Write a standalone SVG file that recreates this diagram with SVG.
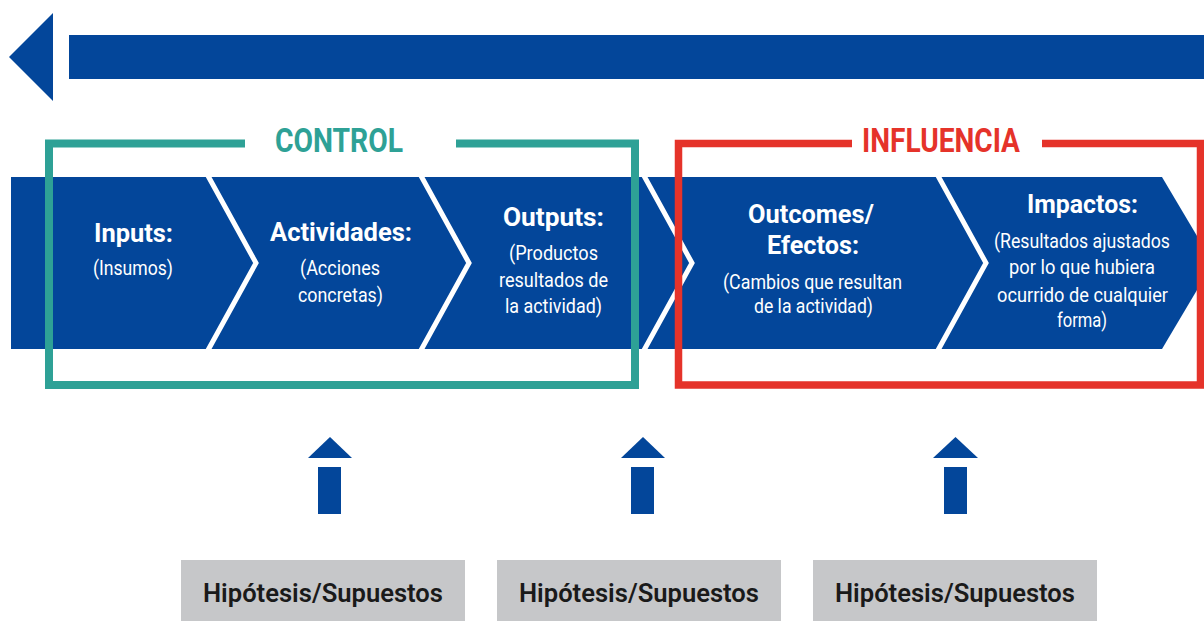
<svg xmlns="http://www.w3.org/2000/svg" width="1204" height="621" viewBox="0 0 1204 621">
<style>
.blue{fill:#03469A}
.chev{fill:none;stroke:#fff;stroke-width:5;stroke-linejoin:miter;stroke-miterlimit:10}
.title{font-family:Roboto,"Liberation Sans",sans-serif;font-weight:bold;font-size:26px;fill:#fff;text-anchor:middle}
.sub{font-family:Roboto,"Liberation Sans",sans-serif;font-weight:normal;font-size:20px;fill:#fff;text-anchor:middle}
.hdr{font-family:Roboto,"Liberation Sans",sans-serif;font-weight:bold;font-size:33px;text-anchor:middle}
.hyp{fill:#C6C7C9}
.hyptxt{font-family:Roboto,"Liberation Sans",sans-serif;font-weight:600;font-size:25px;fill:#1A1A1A;text-anchor:middle}
</style>
<rect width="1204" height="621" fill="#fff"/>
<g id="top-arrow">
<polygon class="blue" points="9,57 53,13 53,101"/>
<rect class="blue" x="69" y="35" width="1135" height="44"/>
</g>
<g id="band">
<polygon class="blue" points="11,177 1162,177 1213,263 1162,349 11,349"/>
<polyline class="chev" points="207,174 256,263 207,352"/>
<polyline class="chev" points="420,174 469,263 420,352"/>
<polyline class="chev" points="643,174 692,263 643,352"/>
<polyline class="chev" points="937,174 986,263 937,352"/>
</g>
<g id="inputs">
<text class="title" x="133.5" y="242" textLength="79" lengthAdjust="spacingAndGlyphs">Inputs:</text>
<text class="sub" x="133" y="275" textLength="80" lengthAdjust="spacingAndGlyphs">(Insumos)</text>
</g>
<g id="actividades">
<text class="title" x="341" y="241" textLength="142" lengthAdjust="spacingAndGlyphs">Actividades:</text>
<text class="sub" x="340" y="275" textLength="80" lengthAdjust="spacingAndGlyphs">(Acciones</text>
<text class="sub" x="340.5" y="302" textLength="85" lengthAdjust="spacingAndGlyphs">concretas)</text>
</g>
<g id="outputs">
<text class="title" x="553.5" y="226" textLength="101" lengthAdjust="spacingAndGlyphs">Outputs:</text>
<text class="sub" x="553.5" y="260" textLength="89" lengthAdjust="spacingAndGlyphs">(Productos</text>
<text class="sub" x="553.5" y="287" textLength="109" lengthAdjust="spacingAndGlyphs">resultados de</text>
<text class="sub" x="553.5" y="313" textLength="97" lengthAdjust="spacingAndGlyphs">la actividad)</text>
</g>
<g id="outcomes">
<text class="title" x="811" y="223" textLength="126" lengthAdjust="spacingAndGlyphs">Outcomes/</text>
<text class="title" x="813" y="254" textLength="92" lengthAdjust="spacingAndGlyphs">Efectos:</text>
<text class="sub" x="812.5" y="289" textLength="179" lengthAdjust="spacingAndGlyphs">(Cambios que resultan</text>
<text class="sub" x="813.5" y="313" textLength="119" lengthAdjust="spacingAndGlyphs">de la actividad)</text>
</g>
<g id="impactos">
<text class="title" x="1082.5" y="213" textLength="111" lengthAdjust="spacingAndGlyphs">Impactos:</text>
<text class="sub" x="1082" y="248" textLength="176" lengthAdjust="spacingAndGlyphs">(Resultados ajustados</text>
<text class="sub" x="1082" y="274" textLength="146" lengthAdjust="spacingAndGlyphs">por lo que hubiera</text>
<text class="sub" x="1082.5" y="302" textLength="171" lengthAdjust="spacingAndGlyphs">ocurrido de cualquier</text>
<text class="sub" x="1082" y="327" textLength="50" lengthAdjust="spacingAndGlyphs">forma)</text>
</g>
<g id="control">
<path d="M245,143.5 H49 V385 H635 V143.5 H456" fill="none" stroke="#2EA196" stroke-width="8"/>
<text class="hdr" x="339" y="152" fill="#2EA196" textLength="128" lengthAdjust="spacingAndGlyphs">CONTROL</text>
</g>
<g id="influencia">
<path d="M852,143.5 H678.5 V385 H1200.5 V143.5 H1042" fill="none" stroke="#E5332A" stroke-width="7.5"/>
<text class="hdr" x="941" y="152" fill="#E5332A" textLength="158" lengthAdjust="spacingAndGlyphs">INFLUENCIA</text>
</g>
<g id="connectors">
<polygon class="blue" points="330,437 352,458 308,458"/>
<rect class="blue" x="318" y="467" width="23" height="47"/>
<polygon class="blue" points="643,437 665,458 621,458"/>
<rect class="blue" x="631" y="467" width="23" height="47"/>
<polygon class="blue" points="955.5,437 978,458 933,458"/>
<rect class="blue" x="944" y="467" width="23" height="47"/>
</g>
<g id="hyp1">
<rect class="hyp" x="181" y="560" width="284" height="61"/>
<text class="hyptxt" x="323" y="602" textLength="240" lengthAdjust="spacingAndGlyphs">Hipótesis/Supuestos</text>
</g>
<g id="hyp2">
<rect class="hyp" x="497" y="560" width="284" height="61"/>
<text class="hyptxt" x="639" y="602" textLength="240" lengthAdjust="spacingAndGlyphs">Hipótesis/Supuestos</text>
</g>
<g id="hyp3">
<rect class="hyp" x="813" y="560" width="284" height="61"/>
<text class="hyptxt" x="955" y="602" textLength="240" lengthAdjust="spacingAndGlyphs">Hipótesis/Supuestos</text>
</g>
</svg>
